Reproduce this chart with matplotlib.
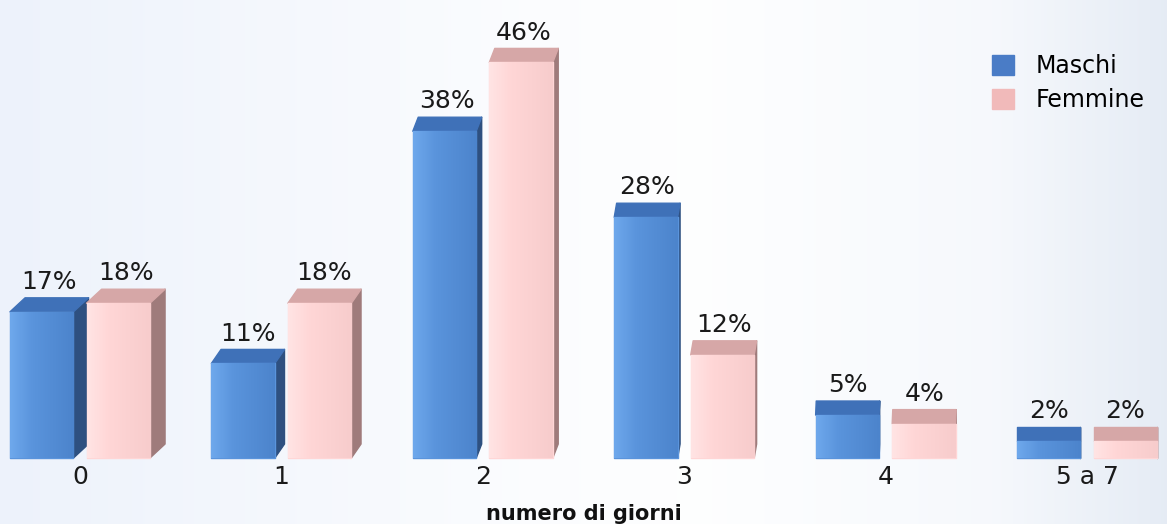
import numpy as np
import matplotlib.pyplot as plt
from matplotlib.patches import Rectangle, Polygon, Patch
from matplotlib.colors import to_rgb

plt.rcParams['font.family'] = ['DejaVu Sans']

categorie = ["0", "1", "2", "3", "4", "5 a 7"]
maschi = [17, 11, 38, 28, 5, 2]
femmine = [18, 18, 46, 12, 4, 2]

# colori: fronte (chiaro, medio, scuro), tetto, fianco
col_m = (("#6ea8ec", "#5a94dc", "#4c84cc"), "#3f71b8", "#2e5080")
col_f = (("#ffe4e4", "#ffd6d6", "#f7cccc"), "#d6a7a7", "#9f7b7b")

fig = plt.figure(figsize=(11.67, 5.24), dpi=100)

# sfondo sfumato
bg = fig.add_axes([0, 0, 1, 1], zorder=-1)
xs = np.linspace(0, 1, 400)
stops = [0.0, 0.45, 0.6, 0.85, 1.0]
r = np.interp(xs, stops, [0.930, 0.985, 0.995, 0.965, 0.900])
g = np.interp(xs, stops, [0.950, 0.990, 0.997, 0.975, 0.925])
b = np.interp(xs, stops, [0.985, 0.998, 1.000, 0.990, 0.960])
bg.imshow(np.dstack([r, g, b]), aspect="auto", extent=[0, 1, 0, 1])
bg.axis("off")

ax = fig.add_axes([0, 0, 1, 1])
ax.patch.set_alpha(0)

w = 0.315
off = 0.19
ddy = 1.63


def front_grad(cols, n=64):
    c = np.array([to_rgb(x) for x in cols])
    t = np.linspace(0, 1, n)
    k = [0, 0.35, 1]
    return np.dstack([np.interp(t, k, c[:, j]) for j in range(3)])


def bar3d(xc, h, ddx, cols):
    front, top, side = cols
    x0, x1 = xc - w / 2, xc + w / 2
    ax.add_patch(Polygon([(x1, 0), (x1 + ddx, ddy), (x1 + ddx, h + ddy), (x1, h)],
                         closed=True, fc=side, ec=side, lw=1, joinstyle="round"))
    ax.add_patch(Polygon([(x0, h), (x1, h), (x1 + ddx, h + ddy), (x0 + ddx, h + ddy)],
                         closed=True, fc=top, ec=top, lw=1, joinstyle="round"))
    rect = Rectangle((x0, 0), w, h, fc=front[1], ec=front[1], lw=1, joinstyle="round")
    ax.add_patch(rect)
    im = ax.imshow(front_grad(front), aspect="auto", extent=[x0, x1, 0, h],
                   interpolation="bilinear", zorder=rect.get_zorder())
    im.set_clip_path(rect)
    ax.text(xc + ddx / 2, h + ddy + 0.45, f"{h}%", ha="center", va="bottom",
            fontsize=18, color="#1a1a1a")


for i, (m, f) in enumerate(zip(maschi, femmine)):
    ddx = 0.075 * (1 - i / 5) ** 2
    bar3d(i - off, m, ddx, col_m)
    bar3d(i + off, f, ddx, col_f)

ax.set_xlim(-0.397, 5.397)
ax.set_ylim(-7.67, 53.26)

ax.spines["bottom"].set_position(("data", 0))
ax.set_xticks(range(len(categorie)), categorie, fontsize=18, color="#1a1a1a")
ax.tick_params(axis="x", length=0, pad=5)
ax.set_yticks([])
for s in ax.spines.values():
    s.set_visible(False)

ax.set_xlabel("numero di giorni", fontsize=15, fontweight="bold", color="#111111")
ax.xaxis.set_label_coords(0.5, 0.038)

handles = [Patch(fc="#4a7cc6", ec="#4a7cc6", label="Maschi"),
           Patch(fc="#f1baba", ec="#f1baba", label="Femmine")]
ax.legend(handles=handles, loc="upper left", bbox_to_anchor=(992 / 1167, 1 - 54 / 524),
          frameon=False, fontsize=17, handlelength=0.93, handleheight=0.93,
          handletextpad=0.9, labelspacing=0.42, borderaxespad=0, borderpad=0)

fig.savefig("out.png", dpi=100)
